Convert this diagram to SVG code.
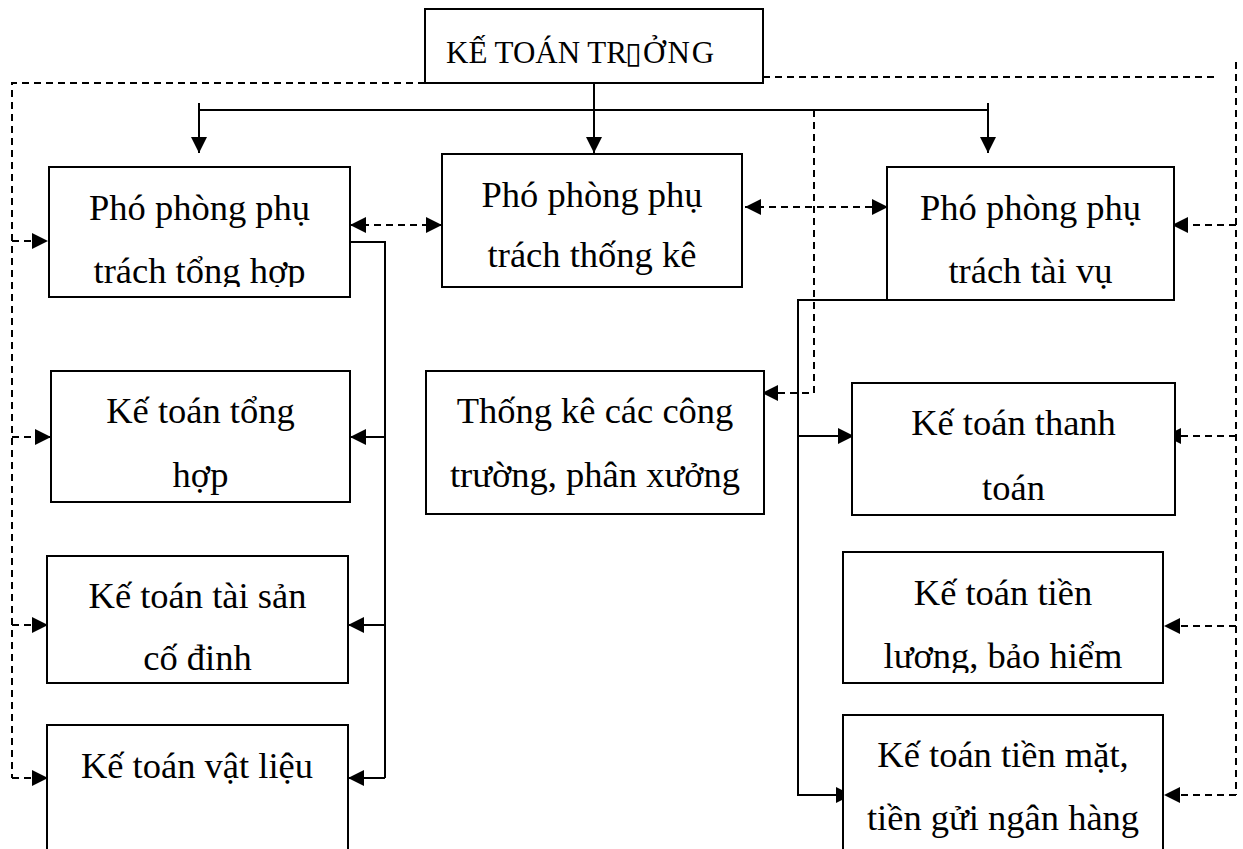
<svg xmlns="http://www.w3.org/2000/svg" width="1243" height="849" viewBox="0 0 1243 849">
<style>
  .box { fill: #ffffff; stroke: #000000; stroke-width: 2; }
  .t { font-family: "Liberation Serif", "Times New Roman", serif; font-size: 36.5px; fill: #000000; text-anchor: middle; }
  .top { font-family: "Liberation Serif", "Times New Roman", serif; font-size: 31px; fill: #000000; }
  .tofu { font-family: "DejaVu Sans", sans-serif; font-size: 30px; }
  .solid { fill: none; stroke: #000000; stroke-width: 2; }
  .dash { fill: none; stroke: #000000; stroke-width: 2; stroke-dasharray: 7 5; }
</style>
<defs>
  <marker id="arr" markerUnits="userSpaceOnUse" markerWidth="16" markerHeight="16" refX="16" refY="8" orient="auto-start-reverse" viewBox="0 0 16 16">
    <path d="M0,0 L16,8 L0,16 z" fill="#000000"/>
  </marker>
  <clipPath id="c-b1"><rect x="49" y="167" width="301" height="120"/></clipPath>
  <clipPath id="c-b2"><rect x="442" y="154" width="300" height="122"/></clipPath>
  <clipPath id="c-ts"><rect x="47" y="556" width="301" height="116"/></clipPath>
  <clipPath id="c-tl"><rect x="843" y="552" width="320" height="121"/></clipPath>
</defs>
<rect width="1243" height="849" fill="#ffffff"/>

<g id="connectors">
  <!-- solid hierarchy -->
  <path class="solid" d="M594,83 L594,153" marker-end="url(#arr)"/>
  <path class="solid" d="M199,110 L988,110"/>
  <path class="solid" d="M199,103 L199,153" marker-end="url(#arr)"/>
  <path class="solid" d="M988,103 L988,153" marker-end="url(#arr)"/>
  <!-- left solid branch -->
  <path class="solid" d="M350,242 L385,242 L385,778"/>
  <path class="solid" d="M385,437 L350,437" marker-end="url(#arr)"/>
  <path class="solid" d="M385,625 L348,625" marker-end="url(#arr)"/>
  <path class="solid" d="M385,778 L348,778" marker-end="url(#arr)"/>
  <!-- right solid branch -->
  <path class="solid" d="M887,300 L798,300 L798,795 L852,795" marker-end="url(#arr)"/>
  <path class="solid" d="M798,436 L854,436" marker-end="url(#arr)"/>
  <!-- dashed double arrows between deputies -->
  <path class="dash" d="M350,225 L442,225" marker-start="url(#arr)" marker-end="url(#arr)"/>
  <path class="dash" d="M745,207 L888,207" marker-start="url(#arr)" marker-end="url(#arr)"/>
  <!-- center dashed -->
  <path class="dash" d="M814,110 L814,393 L762,393" marker-end="url(#arr)"/>
  <!-- left dashed frame -->
  <path class="dash" d="M425,83 L12,83 L12,778"/>
  <path class="dash" d="M12,241 L48,241" marker-end="url(#arr)"/>
  <path class="dash" d="M12,437 L51,437" marker-end="url(#arr)"/>
  <path class="dash" d="M12,625 L48,625" marker-end="url(#arr)"/>
  <path class="dash" d="M12,778 L48,778" marker-end="url(#arr)"/>
  <!-- right dashed frame -->
  <path class="dash" d="M763,77 L1218,77"/>
  <path class="dash" d="M1236,62 L1236,795"/>
  <path class="dash" d="M1236,225 L1172,225" marker-end="url(#arr)"/>
  <path class="dash" d="M1236,436 L1165,436" marker-end="url(#arr)"/>
  <path class="dash" d="M1236,626 L1164,626" marker-end="url(#arr)"/>
  <path class="dash" d="M1236,795 L1164,795" marker-end="url(#arr)"/>
</g>

<g id="node-ketoantruong">
  <rect class="box" x="425" y="9" width="338" height="74"/>
  <text class="top" y="63"><tspan x="446">KẾ TOÁN TR</tspan><tspan class="tofu" x="625">▯</tspan><tspan x="643" letter-spacing="2">ỞNG</tspan></text>
</g>

<g id="node-pp-tonghop">
  <rect class="box" x="49" y="167" width="301" height="130"/>
  <g clip-path="url(#c-b1)">
    <text class="t" x="199.5" y="220">Phó phòng phụ</text>
    <text class="t" x="199.5" y="283">trách tổng hợp</text>
  </g>
</g>

<g id="node-pp-thongke">
  <rect class="box" x="442" y="154" width="300" height="133"/>
  <g clip-path="url(#c-b2)">
    <text class="t" x="592" y="207">Phó phòng phụ</text>
    <text class="t" x="592" y="267">trách thống kê</text>
  </g>
</g>

<g id="node-pp-taivu">
  <rect class="box" x="887" y="167" width="287" height="133"/>
  <text class="t" x="1030.5" y="220">Phó phòng phụ</text>
  <text class="t" x="1030.5" y="283">trách tài vụ</text>
</g>

<g id="node-kt-tonghop">
  <rect class="box" x="51" y="371" width="299" height="131"/>
  <text class="t" x="200.5" y="423">Kế toán tổng</text>
  <text class="t" x="200.5" y="487">hợp</text>
</g>

<g id="node-kt-taisan">
  <rect class="box" x="47" y="556" width="301" height="127"/>
  <g clip-path="url(#c-ts)">
    <text class="t" x="197.5" y="608">Kế toán tài sản</text>
    <text class="t" x="197.5" y="670">cố định</text>
  </g>
</g>

<g id="node-kt-vatlieu">
  <rect class="box" x="47" y="725" width="301" height="140"/>
  <text class="t" x="197" y="778">Kế toán vật liệu</text>
</g>

<g id="node-thongke">
  <rect class="box" x="426" y="371" width="338" height="143"/>
  <text class="t" x="595" y="423">Thống kê các công</text>
  <text class="t" x="595" y="487">trường, phân xưởng</text>
</g>

<g id="node-kt-thanhtoan">
  <rect class="box" x="852" y="383" width="323" height="132"/>
  <text class="t" x="1013.5" y="435">Kế toán thanh</text>
  <text class="t" x="1013.5" y="500">toán</text>
</g>

<g id="node-kt-tienluong">
  <rect class="box" x="843" y="552" width="320" height="131"/>
  <g clip-path="url(#c-tl)">
    <text class="t" x="1003" y="605">Kế toán tiền</text>
    <text class="t" x="1003" y="668">lương, bảo hiểm</text>
  </g>
</g>

<g id="node-kt-tienmat">
  <rect class="box" x="843" y="715" width="320" height="150"/>
  <text class="t" x="1003" y="767">Kế toán tiền mặt,</text>
  <text class="t" x="1003" y="830">tiền gửi ngân hàng</text>
</g>
</svg>
